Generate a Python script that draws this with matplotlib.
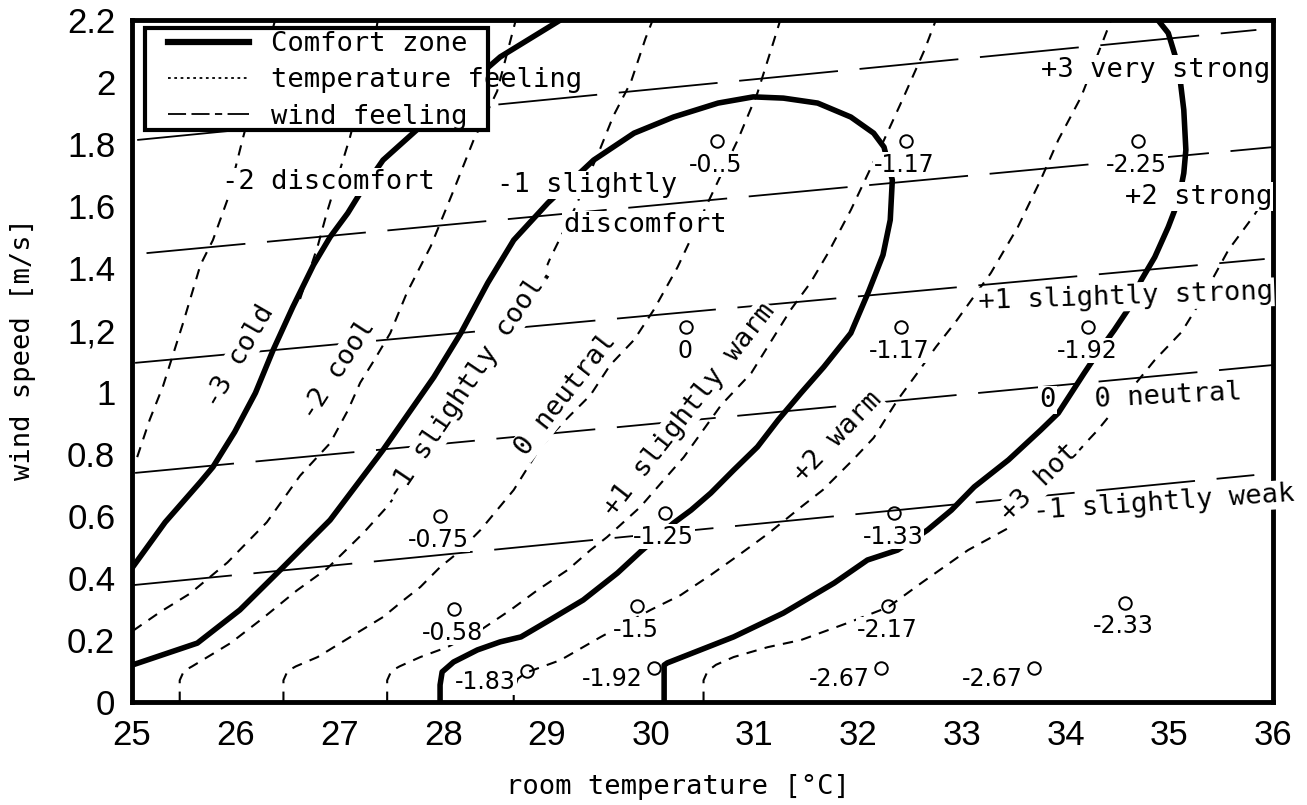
import matplotlib
matplotlib.use('Agg')
import matplotlib.pyplot as plt
from matplotlib.lines import Line2D
from matplotlib.patches import Rectangle

# ---------------- data ----------------
x_ticks = list(range(25, 37))
x_tick_labels = [str(t) for t in x_ticks]
y_ticks = [0, 0.2, 0.4, 0.6, 0.8, 1.0, 1.2, 1.4, 1.6, 1.8, 2.0, 2.2]
y_tick_labels = ['0', '0.2', '0.4', '0.6', '0.8', '1', '1,2', '1.4', '1.6', '1.8', '2', '2.2']

# comfort zone boundaries
comfort1_t = [25.0, 25.32, 25.66, 25.78, 25.99, 26.19, 26.36, 26.55, 26.75, 26.91,
              27.08, 27.20, 27.42, 27.71, 28.07, 28.55, 29.13]
comfort1_v = [0.432, 0.58, 0.71, 0.758, 0.871, 0.997, 1.135, 1.274, 1.41, 1.50,
              1.577, 1.642, 1.748, 1.835, 1.942, 2.081, 2.20]
comfort2_t = [25.0, 25.63, 26.04, 26.43, 26.91, 27.42, 27.91, 28.17, 28.43, 28.68,
              29.01, 29.45, 29.84, 30.22, 30.65, 30.99, 31.28, 31.61, 31.93, 32.15,
              32.25, 32.33, 32.31, 32.24, 32.10, 31.93, 31.67, 31.45, 31.23, 31.03,
              30.80, 30.58, 30.39, 30.22, 29.90, 29.68, 29.35, 29.03, 28.75, 28.55,
              28.33, 28.10, 27.99, 27.97, 27.97]
comfort2_v = [0.119, 0.19, 0.297, 0.426, 0.587, 0.813, 1.048, 1.19, 1.352, 1.49,
              1.61, 1.748, 1.835, 1.887, 1.932, 1.952, 1.948, 1.932, 1.887, 1.835,
              1.79, 1.684, 1.555, 1.442, 1.323, 1.19, 1.081, 0.997, 0.910, 0.823,
              0.748, 0.674, 0.619, 0.577, 0.484, 0.416, 0.329, 0.265, 0.21, 0.194,
              0.168, 0.129, 0.097, 0.055, 0.0]
comfort3_t = [30.13, 30.13, 30.16, 30.80, 31.28, 31.77, 32.09, 32.38, 32.67, 32.90,
              33.12, 33.45, 33.76, 33.93, 34.18, 34.31, 34.47, 34.60, 34.73, 34.86,
              34.99, 35.09, 35.14, 35.16, 35.14, 35.09, 34.99, 34.89]
comfort3_v = [0.0, 0.119, 0.126, 0.21, 0.287, 0.384, 0.458, 0.49, 0.555, 0.619,
              0.694, 0.781, 0.877, 0.932, 1.061, 1.126, 1.2, 1.265, 1.361, 1.435,
              1.532, 1.619, 1.706, 1.781, 1.910, 2.048, 2.158, 2.20]

# temperature feeling lines
temp1_t = [25.05, 25.17, 25.30, 25.49, 25.66, 25.78, 25.92, 26.07, 26.25, 26.38]
temp1_v = [0.79, 0.91, 1.02, 1.22, 1.41, 1.49, 1.62, 1.82, 2.04, 2.20]
temp2_t = [26.62, 26.79, 26.88, 27.10, 27.32, 27.37]
temp2_v = [1.30, 1.47, 1.58, 1.82, 2.10, 2.20]
temp3_t = [25.01, 25.27, 25.56, 25.92, 26.30, 26.62, 26.91, 27.08, 27.20, 27.33,
           27.49, 27.65, 27.88, 28.10, 28.29, 28.52, 28.70]
temp3_v = [0.23, 0.29, 0.35, 0.45, 0.58, 0.73, 0.835, 0.94, 1.03, 1.10,
           1.19, 1.32, 1.47, 1.65, 1.81, 1.97, 2.20]
temp4_t = [25.46, 25.46, 25.50, 25.58, 25.95, 26.26, 26.59, 26.88, 27.23, 27.46,
           27.57, 28.94, 29.03, 29.28, 29.52, 29.64, 29.81, 29.95, 30.02]
temp4_v = [0.0, 0.07, 0.10, 0.115, 0.19, 0.27, 0.36, 0.43, 0.545, 0.63,
           0.68, 1.36, 1.43, 1.60, 1.79, 1.89, 2.00, 2.14, 2.20]
temp5_t = [26.46, 26.46, 26.50, 26.58, 26.79, 27.17, 27.42, 27.62, 27.78, 27.97,
           28.14, 28.36, 28.68, 28.94, 29.18, 29.42, 29.61, 29.84, 30.03, 30.26,
           30.61, 30.84, 31.03, 31.19, 31.25]
temp5_v = [0.0, 0.07, 0.10, 0.115, 0.145, 0.223, 0.274, 0.329, 0.371, 0.435,
           0.481, 0.555, 0.684, 0.823, 0.91, 0.99, 1.087, 1.168, 1.265, 1.403,
           1.652, 1.813, 1.965, 2.135, 2.20]
temp6_t = [27.46, 27.46, 27.50, 27.58, 27.78, 28.04, 28.36, 28.65, 28.91, 29.20,
           29.42, 29.58, 29.90, 30.10, 30.32, 30.68, 30.97, 31.35, 31.54, 31.71,
           31.93, 32.25, 32.44, 32.64, 32.75]
temp6_v = [0.0, 0.07, 0.10, 0.115, 0.145, 0.177, 0.232, 0.297, 0.361, 0.426,
           0.49, 0.532, 0.629, 0.706, 0.79, 0.958, 1.061, 1.265, 1.352, 1.448,
           1.587, 1.813, 1.952, 2.103, 2.20]
temp7_t = [28.68, 28.68, 28.72, 28.80, 29.13, 29.52, 30.00, 30.29, 30.58, 30.85,
           31.14, 31.45, 31.66, 31.95, 32.15, 32.38, 32.58, 32.75, 32.94, 33.28,
           33.54, 33.76, 33.93, 34.15, 34.44]
temp7_v = [0.0, 0.04, 0.075, 0.095, 0.135, 0.21, 0.297, 0.345, 0.41, 0.474,
           0.545, 0.629, 0.684, 0.781, 0.852, 0.974, 1.065, 1.145, 1.226, 1.384,
           1.532, 1.684, 1.813, 1.952, 2.20]
temp8_t = [30.51, 30.51, 30.55, 30.63, 30.80, 31.13, 31.45, 31.90, 32.29, 32.61,
           33.06, 33.47, 34.22, 34.31, 34.86, 35.12, 35.28, 35.57, 35.82, 36.0]
temp8_v = [0.0, 0.07, 0.10, 0.12, 0.145, 0.177, 0.20, 0.255, 0.306, 0.384,
           0.49, 0.565, 0.845, 0.877, 1.103, 1.194, 1.281, 1.458, 1.571, 1.668]

# wind feeling lines (start, end)
wind1_t = [25.05, 35.84]
wind1_v = [1.813, 2.168]
wind2_t = [25.14, 36.0]
wind2_v = [1.448, 1.790]
wind3_t = [25.03, 35.92]
wind3_v = [1.094, 1.429]
wind4_t = [25.03, 36.0]
wind4_v = [0.739, 1.087]
wind5_t = [25.01, 35.82]
wind5_v = [0.377, 0.732]

# measured points
point_t = [30.64, 32.46, 34.70, 30.34, 32.41, 34.22, 27.97, 30.14, 32.35,
           28.10, 29.87, 32.29, 34.57, 28.81, 30.03, 32.22, 33.70]
point_v = [1.81, 1.81, 1.81, 1.21, 1.21, 1.21, 0.60, 0.61, 0.61,
           0.30, 0.31, 0.31, 0.32, 0.10, 0.11, 0.11, 0.11]
point_labels = ['-0..5', '-1.17', '-2.25', '0', '-1.17', '-1.92', '-0.75', '-1.25', '-1.33',
                '-0.58', '-1.5', '-2.17', '-2.33', '-1.83', '-1.92', '-2.67', '-2.67']

# ---------------- figure ----------------
W, H = 1307, 805
fig = plt.figure(figsize=(W / 100, H / 100), dpi=100)
ax = fig.add_axes([132 / W, 1 - 702 / H, (1273 - 132) / W, (702 - 20) / H])
ax.set_xlim(25, 36)
ax.set_ylim(0, 2.2)

MONO = 'DejaVu Sans Mono'
NARROW = ['Liberation Sans Narrow', 'DejaVu Sans']

comfort_kw = dict(color='black', lw=4.0, solid_capstyle='butt', solid_joinstyle='round', zorder=3)
temp_kw = dict(color='black', lw=1.5, linestyle=(0, (5, 4)), zorder=2)
wind_kw = dict(color='black', lw=1.3, linestyle=(0, (55, 12)), zorder=2)

for t, v in [(comfort1_t, comfort1_v), (comfort2_t, comfort2_v), (comfort3_t, comfort3_v)]:
    ax.plot(t, v, **comfort_kw)
for t, v in [(temp1_t, temp1_v), (temp2_t, temp2_v), (temp3_t, temp3_v), (temp4_t, temp4_v),
             (temp5_t, temp5_v), (temp6_t, temp6_v), (temp7_t, temp7_v), (temp8_t, temp8_v)]:
    ax.plot(t, v, **temp_kw)
for t, v in [(wind1_t, wind1_v), (wind2_t, wind2_v), (wind3_t, wind3_v),
             (wind4_t, wind4_v), (wind5_t, wind5_v)]:
    ax.plot(t, v, **wind_kw)

ax.plot(point_t, point_v, linestyle='none', marker='o', ms=9, mfc='none',
        mec='black', mew=1.4, zorder=4)

wbox = dict(facecolor='white', edgecolor='none', pad=0.5)
for t, v, lab in zip(point_t, point_v, point_labels):
    if v < 0.2:
        off = (-30, -8)
    else:
        off = (-1, -17)
    ax.annotate(lab, (t, v), xytext=off, textcoords='offset points',
                ha='center', va='center', fontsize=17, family=NARROW,
                bbox=wbox, zorder=5)

# region labels
lbox = dict(facecolor='white', edgecolor='none', pad=1.0)
lab_kw = dict(fontsize=19.5, family=MONO, zorder=5, bbox=lbox)
ax.text(25.87, 1.677, '-2 discomfort', ha='left', va='center', **lab_kw)
ax.text(28.52, 1.668, '-1 slightly', ha='left', va='center', **lab_kw)
ax.text(29.16, 1.539, 'discomfort', ha='left', va='center', **lab_kw)
ax.text(33.76, 2.04, '+3 very strong', ha='left', va='center', **lab_kw)
ax.text(34.57, 1.63, '+2 strong', ha='left', va='center', **lab_kw)
ax.text(33.16, 1.29, '+1 slightly strong', ha='left', va='center', rotation=2,
        rotation_mode='anchor', **lab_kw)
ax.text(34.28, 0.974, '0 neutral', ha='left', va='center', rotation=3,
        rotation_mode='anchor', **lab_kw)
ax.text(33.83, 0.974, '0', ha='center', va='center', **lab_kw)
ax.text(33.69, 0.613, '-1 slightly weak', ha='left', va='center', rotation=4,
        rotation_mode='anchor', **lab_kw)

rot_labels = [
    (26.04, 1.113, '-3 cold', 60),
    (26.99, 1.071, '-2 cool', 57),
    (28.26, 1.03, '-1 slightly cool.', 56),
    (29.18, 0.99, '0 neutral', 52),
    (30.37, 0.942, '+1 slightly warm', 52),
    (31.80, 0.855, '+2 warm', 46),
    (33.75, 0.71, '+3 hot', 45),
]
for t, v, s, r in rot_labels:
    ax.text(t, v, s, ha='center', va='center', rotation=r, rotation_mode='anchor', **lab_kw)

# axes styling
ax.set_xticks(x_ticks)
ax.set_xticklabels(x_tick_labels, family='Liberation Sans', fontsize=25)
ax.set_yticks(y_ticks)
ax.set_yticklabels(y_tick_labels, family='Liberation Sans', fontsize=25)
ax.tick_params(length=0, pad=12)
for sp in ax.spines.values():
    sp.set_linewidth(3.5)
    sp.set_zorder(4)

fig.text(678 / W, 1 - 787 / H, 'room temperature [°C]', ha='center', va='center',
         fontsize=19.5, family=MONO)
fig.text(23 / W, 1 - 349 / H, 'wind speed [m/s]', ha='center', va='center',
         rotation=90, fontsize=19.5, family=MONO)

# legend
ax.add_patch(Rectangle(((145 - 132) / 1141, (702 - 130) / 682), (488 - 145) / 1141,
                       (130 - 28) / 682, transform=ax.transAxes, facecolor='white',
                       edgecolor='black', lw=3, zorder=6))
handles = [Line2D([], [], color='black', lw=4.5),
           Line2D([], [], color='black', lw=1.3, linestyle=(0, (1.5, 2))),
           Line2D([], [], color='black', lw=1.3, linestyle=(0, (10, 3, 10, 3, 4, 3, 14, 2)))]
leg = ax.legend(handles, ['Comfort zone', 'temperature feeling', 'wind feeling'],
                loc='upper left', bbox_to_anchor=((168 - 132) / 1141, (702 - 31) / 682),
                frameon=False, borderpad=0, borderaxespad=0, handlelength=3.0,
                handletextpad=0.8, labelspacing=0.38, prop={'family': MONO, 'size': 19.5})
leg.set_zorder(7)

fig.savefig('out.png', dpi=100)
